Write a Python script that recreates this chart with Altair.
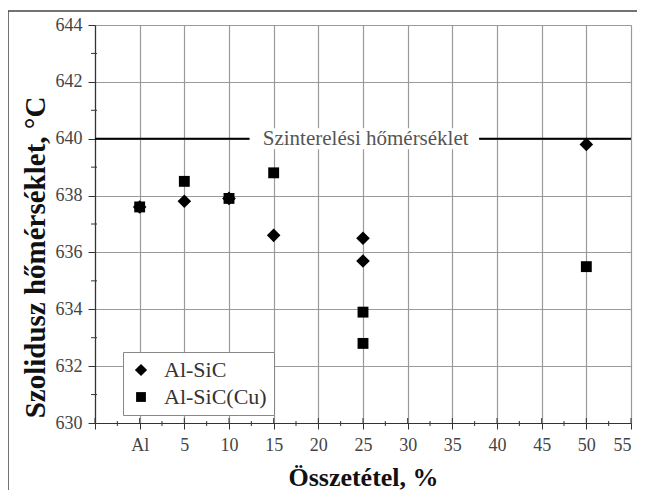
import altair as alt
import pandas as pd

# Data
sic_x = [0, 5, 10, 15, 25, 25, 50]
sic_y = [637.6, 637.8, 637.9, 636.6, 636.5, 635.7, 639.8]
cu_x = [0, 5, 10, 15, 25, 25, 50]
cu_y = [637.6, 638.5, 637.9, 638.8, 633.9, 632.8, 635.5]
series_names = ["Al-SiC", "Al-SiC(Cu)"]

x_ticks = [-5, 0, 5, 10, 15, 20, 25, 30, 35, 40, 45, 50, 55]
y_ticks = [630, 632, 634, 636, 638, 640, 642, 644]
x_minor = [-2.5, 2.5, 7.5, 12.5, 17.5, 22.5, 27.5, 32.5, 37.5, 42.5, 47.5, 52.5]
y_minor = [631, 633, 635, 637, 639, 641, 643]

sinter_temp = 640
sinter_label = "Szinterelési hőmérséklet"
label_x = 25.3
gap_from, gap_to = 12.3, 38

FONT = "Liberation Serif"
W, H = 536, 398

pts = pd.DataFrame({
    "x": sic_x + cu_x,
    "y": sic_y + cu_y,
    "series": [series_names[0]] * len(sic_x) + [series_names[1]] * len(cu_x),
})

xs = alt.Scale(domain=[-5, 55], nice=False, zero=False)
ys = alt.Scale(domain=[630, 644], nice=False, zero=False)

DIAMOND = "M-1,0L0,-1L1,0L0,1Z"
SQUARE = "M-0.8,-0.8L0.8,-0.8L0.8,0.8L-0.8,0.8Z"

points = alt.Chart(pts).mark_point(filled=True, opacity=1, color="black", size=185).encode(
    x=alt.X("x:Q", scale=xs,
            axis=alt.Axis(values=x_ticks, title="Összetétel, %",
                          labelExpr="datum.value == 0 ? 'Al' : (datum.value == -5 ? '' : datum.label)",
                          grid=True, gridColor="#9a9a9a", gridWidth=1.2,
                          tickSize=6, tickColor="#333", domainColor="#333", domainWidth=1.2,
                          labelFont=FONT, labelFontSize=18, labelColor="#444", labelPadding=7,
                          titleFont=FONT, titleFontSize=26, titleFontWeight="bold",
                          titleColor="#111", titleBaseline="alphabetic", titleY=62)),
    y=alt.Y("y:Q", scale=ys,
            axis=alt.Axis(values=y_ticks, title="Szolidusz hőmérséklet, °C",
                          grid=True, gridColor="#9a9a9a", gridWidth=1.2,
                          tickSize=7, tickColor="#333", domainColor="#333", domainWidth=1.2,
                          labelFont=FONT, labelFontSize=18, labelColor="#444", labelPadding=6,
                          titleFont=FONT, titleFontSize=29, titleFontWeight="bold",
                          titleColor="#111", titleBaseline="alphabetic", titleX=-51, titleY=232)),
    shape=alt.Shape("series:N", scale=alt.Scale(domain=series_names, range=[DIAMOND, SQUARE]),
                    legend=alt.Legend(title=None, orient="none", legendX=28, legendY=327,
                                      labelFont=FONT, labelFontSize=22, labelColor="#333",
                                      symbolFillColor="black", symbolStrokeColor="black",
                                      symbolSize=150, symbolStrokeWidth=0,
                                      strokeColor="#888", fillColor="white", padding=7,
                                      rowPadding=5, labelOffset=12)),
)

rule_df = pd.DataFrame({"y": [sinter_temp]})
rule = alt.Chart(rule_df).mark_rule(color="black", strokeWidth=2).encode(
    y=alt.Y("y:Q", scale=ys), x=alt.value(0), x2=alt.value(W))

gap_df = pd.DataFrame({"x": [gap_from], "x2": [gap_to], "y": [sinter_temp - 0.37], "y2": [sinter_temp + 0.37]})
gap = alt.Chart(gap_df).mark_rect(color="white").encode(
    x=alt.X("x:Q", scale=xs), x2="x2", y=alt.Y("y:Q", scale=ys), y2="y2")

txt_df = pd.DataFrame({"x": [label_x], "y": [sinter_temp], "t": [sinter_label]})
txt = alt.Chart(txt_df).mark_text(font=FONT, fontSize=21, color="#555", baseline="middle").encode(
    x=alt.X("x:Q", scale=xs), y=alt.Y("y:Q", scale=ys), text="t:N")

# minor ticks and inner halves of major ticks
xmin_df = pd.DataFrame({"x": x_minor})
xmin = alt.Chart(xmin_df).mark_rule(color="#333", strokeWidth=1).encode(
    x=alt.X("x:Q", scale=xs), y=alt.value(H - 2), y2=alt.value(H + 3))
xmaj_df = pd.DataFrame({"x": x_ticks})
xmaj = alt.Chart(xmaj_df).mark_rule(color="#333", strokeWidth=1).encode(
    x=alt.X("x:Q", scale=xs), y=alt.value(H - 5), y2=alt.value(H))
ymin_df = pd.DataFrame({"y": y_minor})
ymin = alt.Chart(ymin_df).mark_rule(color="#333", strokeWidth=1).encode(
    y=alt.Y("y:Q", scale=ys), x=alt.value(-4), x2=alt.value(2))

# outer frame (top and left border of the figure)
frame_top = alt.Chart(rule_df).mark_rule(color="#444", strokeWidth=1.5).encode(
    x=alt.value(-87), x2=alt.value(W + 14), y=alt.value(-14))
frame_left = alt.Chart(rule_df).mark_rule(color="#444", strokeWidth=1.5).encode(
    x=alt.value(-87), y=alt.value(-14), y2=alt.value(H + 70))

chart = alt.layer(points, xmin, xmaj, ymin, rule, gap, txt, frame_top, frame_left).properties(
    width=W, height=H,
    autosize=alt.AutoSizeParams(type="none"),
    padding={"left": 87, "top": 17, "right": 6, "bottom": 67},
).configure_view(stroke="#9a9a9a", strokeWidth=1.2).configure(background="white")

chart.save("out.html", embed_options={"renderer": "svg", "actions": False})
